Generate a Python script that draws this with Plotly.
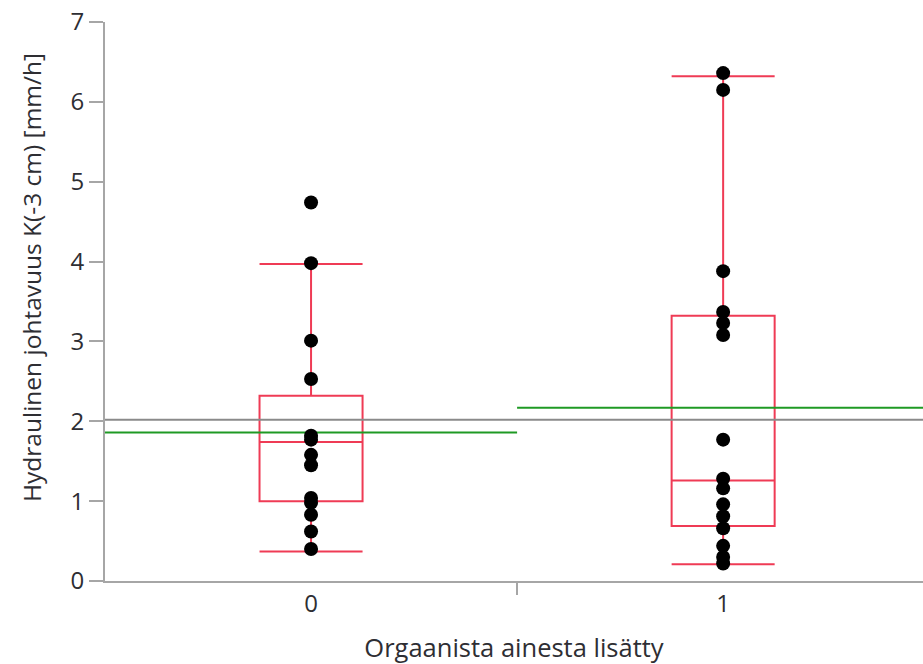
import plotly.graph_objects as go

# ---- data ----
categories = [0, 1]
category_labels = ["0", "1"]

values_group0 = [4.74, 3.98, 3.01, 2.53, 1.82, 1.77, 1.58, 1.45, 1.04, 0.98, 0.83, 0.62, 0.40]
values_group1 = [6.36, 6.15, 3.88, 3.37, 3.23, 3.08, 1.77, 1.28, 1.16, 0.96, 0.81, 0.66, 0.44, 0.30, 0.22]

box_q1 = [1.00, 0.69]
box_median = [1.74, 1.26]
box_q3 = [2.32, 3.32]
box_lowerfence = [0.37, 0.21]
box_upperfence = [3.97, 6.32]

group_means = [1.86, 2.17]
grand_mean = 2.02

y_ticks = [0, 1, 2, 3, 4, 5, 6, 7]

x_title = "Orgaanista ainesta lisätty"
y_title = "Hydraulinen johtavuus K(-3 cm) [mm/h]"

# ---- styles ----
RED = "#ef3b55"
GREEN = "#1f9a24"
GRAY_LINE = "#8a8a8a"
AXIS = "#a6a6a6"
TEXT = "#2e2e33"
FONT = "Open Sans"

fig = go.Figure()

lo = categories[0] - 0.5
hi = categories[-1] + 0.5

# grand mean line
fig.add_trace(go.Scatter(x=[lo, hi], y=[grand_mean, grand_mean], mode="lines",
                         line=dict(color=GRAY_LINE, width=2), hoverinfo="skip", showlegend=False))

# group mean lines
for c, m in zip(categories, group_means):
    fig.add_trace(go.Scatter(x=[c - 0.5, c + 0.5], y=[m, m], mode="lines",
                             line=dict(color=GREEN, width=2), hoverinfo="skip", showlegend=False))

# points
for c, vals in zip(categories, [values_group0, values_group1]):
    fig.add_trace(go.Scatter(x=[c] * len(vals), y=vals, mode="markers",
                             marker=dict(color="black", size=14), hoverinfo="y", showlegend=False))

# box plots
fig.add_trace(go.Box(x=categories, q1=box_q1, median=box_median, q3=box_q3,
                     lowerfence=box_lowerfence, upperfence=box_upperfence,
                     width=0.25, whiskerwidth=1, boxpoints=False,
                     line=dict(color=RED, width=2), fillcolor="rgba(0,0,0,0)",
                     hoverinfo="skip", showlegend=False))

fig.update_layout(
    width=923, height=664,
    margin=dict(l=105, r=0, t=22, b=83),
    paper_bgcolor="white", plot_bgcolor="white",
    font=dict(family=FONT, size=22, color=TEXT),
    showlegend=False,
    annotations=[dict(text=y_title, xref="paper", yref="paper", x=0, y=0.542,
                      xanchor="center", yanchor="middle", xshift=-74, textangle=-90,
                      showarrow=False, font=dict(size=24.5, color=TEXT))],
)

fig.update_xaxes(
    range=[lo, lo + 1.985],
    tickvals=categories, ticktext=category_labels, ticks="",
    tickfont=dict(size=24, color=TEXT),
    showline=True, linecolor=AXIS, linewidth=2,
    showgrid=False, zeroline=False,
    minor=dict(tickvals=[0.5], ticks="outside", ticklen=12, tickcolor=AXIS, tickwidth=2, showgrid=False),
    title=dict(text=x_title, font=dict(size=25.5, color=TEXT), standoff=22),
)

fig.update_yaxes(
    range=[0, 7], tickvals=y_ticks,
    ticks="outside", ticklen=14, tickcolor=AXIS, tickwidth=2,
    tickfont=dict(size=24, color=TEXT), ticklabeloverflow="allow",
    showline=True, linecolor=AXIS, linewidth=2,
    showgrid=False, zeroline=False,
)

fig.write_html("out.html",
               config={"displayModeBar": False},
               post_script="document.body.style.margin='0';document.body.style.overflow='hidden';")
